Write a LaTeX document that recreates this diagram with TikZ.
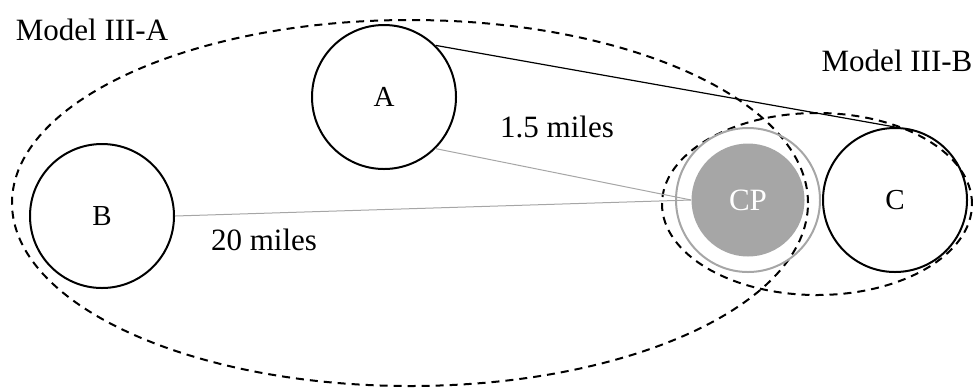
\documentclass[tikz,border=0pt]{standalone}
\usepackage{fontspec}
\setmainfont{Liberation Serif}
\usetikzlibrary{positioning,shapes.geometric}

\begin{document}
\begin{tikzpicture}[
  x=0.5pt, y=-0.5pt,
  every node/.style={font=\fontsize{15.5}{18}\selectfont},
  site/.style={draw, circle, line width=1pt, minimum size=72pt,
               inner sep=0pt, font=\fontsize{14.5}{17}\selectfont},
  group/.style={draw, ellipse, dashed, line width=1pt,
                dash pattern=on 4pt off 3pt, inner sep=0pt},
  link/.style={draw, line width=0.5pt, color=cpgray}
]
  \definecolor{cpgray}{HTML}{A6A6A6}
  \useasboundingbox (0,0) rectangle (973,387);

  \node[group, minimum width=398pt, minimum height=183pt] (modelA) at (410,203) {};
  \node[group, minimum width=155pt, minimum height=91pt] (modelB) at (817,204) {};

  \node[site] (a) at (384,97) {A};
  \node[site] (b) at (102,216) {B};
  \node[site] (c) at (895,200) {C};
  \node[site, draw=cpgray] (ring) at (748,200) {};
  \node[circle, fill=cpgray, minimum size=56.5pt, inner sep=0pt,
        text=white] (cp) at (ring) {CP};

  \node[anchor=base] (labelA) at (92,40) {Model III-A};
  \node[anchor=base] (labelB) at (897,71) {Model III-B};

  \draw[line width=0.6pt] (a.north east) -- (c.north);
  \draw[link] (a.south east) -- (cp.west);
  \draw[link] (b.east) -- (cp.west);

  \node[anchor=base] (near) at (557,137) {1.5 miles};
  \node[anchor=base] (far) at (264,250) {20 miles};
\end{tikzpicture}
\end{document}
